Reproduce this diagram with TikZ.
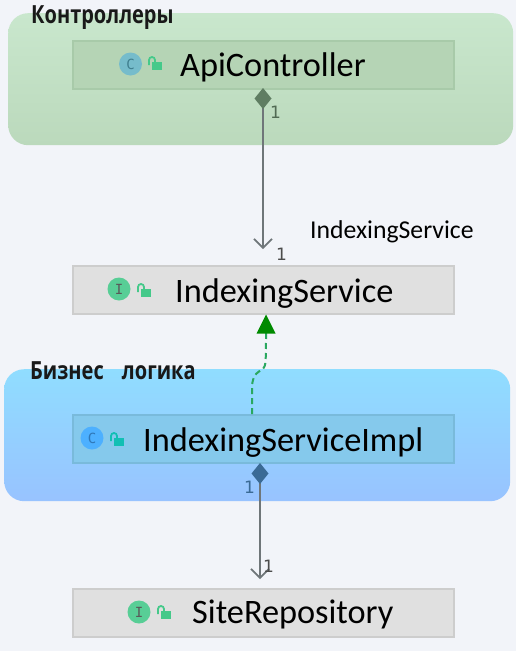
\documentclass[tikz,border=0pt]{standalone}
\usepackage{fontspec}
\setmainfont{Carlito}
\newfontfamily\titlefont[FakeStretch=0.8]{Open Sans Bold}
\newfontfamily\numfont{DejaVu Sans}
\newfontfamily\iconfont{DejaVu Sans Mono}
\usetikzlibrary{arrows.meta}
\definecolor{pagebg}{HTML}{F2F4F9}
\definecolor{greentop}{HTML}{C9E7CD}
\definecolor{greenbot}{HTML}{BBD9BC}
\definecolor{bluetop}{HTML}{90DDFF}
\definecolor{bluebot}{HTML}{98C3FF}
\definecolor{linegray}{HTML}{6F7679}
\definecolor{mint}{HTML}{45C98A}
\definecolor{teallock}{HTML}{12BFB4}
\definecolor{apifill}{HTML}{B5D4B5}
\definecolor{apiline}{HTML}{A8CAA9}
\definecolor{ifill}{HTML}{E0E0E0}
\definecolor{iline}{HTML}{CDCDCD}
\definecolor{implfill}{HTML}{85C9EC}
\definecolor{implline}{HTML}{79BADB}
\definecolor{dgreen}{HTML}{5F7D62}
\definecolor{dblue}{HTML}{3A6A95}
\definecolor{dashgreen}{HTML}{2AA860}
\definecolor{headgreen}{HTML}{008A00}
\definecolor{badgeapi}{HTML}{76BCCB}
\definecolor{badgeimpl}{HTML}{4DB0FF}
\definecolor{letterapi}{HTML}{3F7F8F}
\definecolor{letterimpl}{HTML}{2F78B8}
\tikzset{
  x=1pt,y=-1pt,
  group/.style={rounded corners=20pt,shade,shading angle=0,inner sep=0pt},
  classbox/.style={draw=#1,line width=1.5pt,minimum width=381pt,minimum height=48pt,inner sep=0pt,anchor=north west},
  cname/.style={font=\fontsize{34.3}{34.3}\selectfont,anchor=base west,inner sep=0pt,text=black},
  gtitle/.style={font=\titlefont\fontsize{25}{25}\selectfont,anchor=base west,inner sep=0pt,text=black!90},
  mult/.style={font=\numfont\fontsize{17}{17}\selectfont,anchor=base west,inner sep=0pt},
  free/.style={font=\fontsize{25.7}{25.7}\selectfont,anchor=base west,inner sep=0pt},
  badge/.style={circle,minimum size=23pt,inner sep=0pt,font=\iconfont\fontsize{14}{14}\selectfont},
  assoc/.style={linegray,line width=1.6pt},
  real/.style={draw=dashgreen,line width=2pt,dash pattern=on 6pt off 4pt},
  pics/lock/.style={code={
    \fill[#1] (-3,-2) rectangle (7,6);
    \draw[#1,line width=1.8pt] (-6,1) -- (-6,-4) arc (180:360:3) -- (0,-2);
  }}
}
\begin{document}
\begin{tikzpicture}
\useasboundingbox (0,0) rectangle (516,651);
\fill[pagebg] (0,0) rectangle (516,651);
% groups
\node[group,top color=greentop,bottom color=greenbot,minimum width=505pt,minimum height=132pt,anchor=north west] (ggreen) at (8,13) {};
\node[group,top color=bluetop,bottom color=bluebot,minimum width=506pt,minimum height=132pt,anchor=north west] (gblue) at (4,369) {};
\node[gtitle] (tgreen) at (31,23) {Контроллеры};
\node[gtitle] (tblue) at (30,379) {Бизнес\hspace{13pt} логика};
% classes
\node[classbox=apiline,fill=apifill] (api) at (72,40) {};
\node[classbox=iline,fill=ifill] (iface) at (72,265) {};
\node[classbox=implline,fill=implfill] (impl) at (72,414) {};
\node[classbox=iline,fill=ifill] (repo) at (72,588) {};
% icons
\node[badge,fill=badgeapi,text=letterapi] (capi) at (130.5,64) {C};
\pic at (155,64) {lock=mint};
\node[badge,fill=mint!90!white,text=black!65] (ciface) at (119,289) {I};
\pic at (144,291) {lock=mint};
\node[badge,fill=badgeimpl,text=letterimpl] (cimpl) at (92,438) {C};
\pic at (117,440) {lock=teallock};
\node[badge,fill=mint!90!white,text=black!65] (crepo) at (139,612) {I};
\pic at (164,613) {lock=mint};
% names
\node[cname] (napi) at (180,76) {ApiController};
\node[cname] (niface) at (175,302) {IndexingService};
\node[cname] (nimpl) at (143,451) {IndexingServiceImpl};
\node[cname] (nrepo) at (192,623) {SiteRepository};
\node[free] (flabel) at (310,238) {IndexingService};
% connectors
\coordinate (apibot) at (263,88);
\coordinate (ifacetop) at (263,249);
\draw[assoc,{Diamond[length=21pt,width=17pt,fill=dgreen,color=dgreen]}-{Straight Barb[length=9pt,width=18pt,line width=1.6pt]}] (apibot) -- (ifacetop);
\coordinate (implbot) at (260,463);
\coordinate (repotop) at (260,579);
\draw[assoc,{Diamond[length=21pt,width=17pt,fill=dblue,color=dblue]}-{Straight Barb[length=9pt,width=18pt,line width=1.6pt]}] (implbot) -- (repotop);
\coordinate (implright) at (252,414);
\coordinate (ifacebot) at (266,314.5);
\draw[real] (implright) -- (252,388) .. controls (252,373) and (260,371) .. (263,369) .. controls (266,366) and (266,360) .. (266,333);
\fill[headgreen] (ifacebot) -- (275.5,333.5) -- (256.5,333.5) -- cycle;
% multiplicities
\node[mult,text=dgreen!85!black] (m1) at (270,118) {1};
\node[mult,text=black!70] (m2) at (276,260) {1};
\node[mult,text=dblue] (m3) at (244,493) {1};
\node[mult,text=black!70] (m4) at (263,572) {1};
\end{tikzpicture}
\end{document}
